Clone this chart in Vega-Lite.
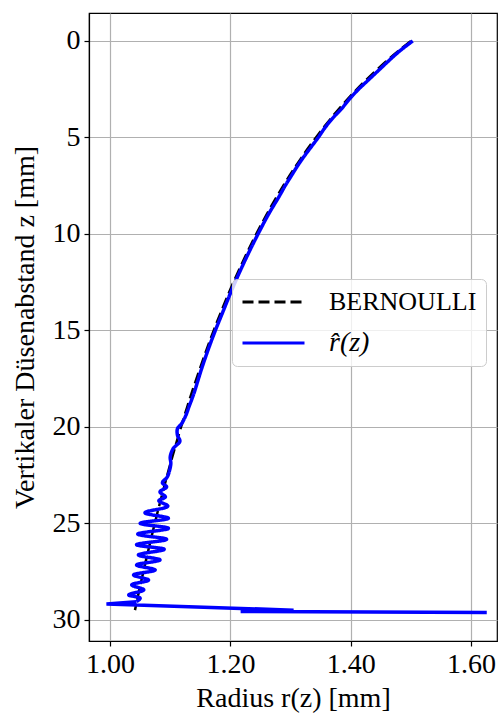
{
  "$schema": "https://vega.github.io/schema/vega-lite/v6.json",
  "width": 408,
  "height": 628,
  "autosize": "none",
  "padding": {"left": 89, "top": 13, "right": 5, "bottom": 77},
  "background": "white",
  "config": {
    "font": "Liberation Serif",
    "view": {"stroke": "black", "strokeWidth": 1.2},
    "axis": {
      "labelFont": "Liberation Serif",
      "labelFontSize": 28,
      "labelColor": "black",
      "titleFont": "Liberation Serif",
      "titleFontSize": 28,
      "titleFontWeight": "normal",
      "titleColor": "black",
      "domainColor": "black",
      "domainWidth": 1.2,
      "tickColor": "black",
      "tickWidth": 1.2,
      "tickSize": 5,
      "gridColor": "#b0b0b0",
      "gridWidth": 1.2,
      "labelPadding": 4
    }
  },
  "datasets": {
    "bernoulli": [
      {"z": 0, "r": 1.5, "s": "BERNOULLI"},
      {"z": 0.5, "r": 1.4797, "s": "BERNOULLI"},
      {"z": 1, "r": 1.4607, "s": "BERNOULLI"},
      {"z": 2, "r": 1.4261, "s": "BERNOULLI"},
      {"z": 3, "r": 1.3952, "s": "BERNOULLI"},
      {"z": 4, "r": 1.3674, "s": "BERNOULLI"},
      {"z": 5, "r": 1.3422, "s": "BERNOULLI"},
      {"z": 6, "r": 1.3191, "s": "BERNOULLI"},
      {"z": 7, "r": 1.2979, "s": "BERNOULLI"},
      {"z": 8, "r": 1.2783, "s": "BERNOULLI"},
      {"z": 9, "r": 1.2601, "s": "BERNOULLI"},
      {"z": 10, "r": 1.2431, "s": "BERNOULLI"},
      {"z": 11, "r": 1.2272, "s": "BERNOULLI"},
      {"z": 12, "r": 1.2123, "s": "BERNOULLI"},
      {"z": 13, "r": 1.1982, "s": "BERNOULLI"},
      {"z": 14, "r": 1.1849, "s": "BERNOULLI"},
      {"z": 15, "r": 1.1723, "s": "BERNOULLI"},
      {"z": 16, "r": 1.1604, "s": "BERNOULLI"},
      {"z": 17, "r": 1.1491, "s": "BERNOULLI"},
      {"z": 18, "r": 1.1382, "s": "BERNOULLI"},
      {"z": 19, "r": 1.1279, "s": "BERNOULLI"},
      {"z": 20, "r": 1.118, "s": "BERNOULLI"},
      {"z": 21, "r": 1.1086, "s": "BERNOULLI"},
      {"z": 22, "r": 1.0995, "s": "BERNOULLI"},
      {"z": 23, "r": 1.0908, "s": "BERNOULLI"},
      {"z": 24, "r": 1.0824, "s": "BERNOULLI"},
      {"z": 25, "r": 1.0743, "s": "BERNOULLI"},
      {"z": 26, "r": 1.0666, "s": "BERNOULLI"},
      {"z": 27, "r": 1.0591, "s": "BERNOULLI"},
      {"z": 28, "r": 1.0518, "s": "BERNOULLI"},
      {"z": 29, "r": 1.0448, "s": "BERNOULLI"},
      {"z": 29.5, "r": 1.0414, "s": "BERNOULLI"}
    ],
    "rhat": [
      {"i": 0, "z": 0, "r": 1.503, "s": "r̂(z)"},
      {"i": 1, "z": 0.5, "r": 1.482, "s": "r̂(z)"},
      {"i": 2, "z": 1, "r": 1.464, "s": "r̂(z)"},
      {"i": 3, "z": 1.5, "r": 1.447, "s": "r̂(z)"},
      {"i": 4, "z": 2, "r": 1.43, "s": "r̂(z)"},
      {"i": 5, "z": 2.5, "r": 1.413, "s": "r̂(z)"},
      {"i": 6, "z": 3, "r": 1.398, "s": "r̂(z)"},
      {"i": 7, "z": 3.5, "r": 1.385, "s": "r̂(z)"},
      {"i": 8, "z": 4, "r": 1.37, "s": "r̂(z)"},
      {"i": 9, "z": 4.5, "r": 1.357, "s": "r̂(z)"},
      {"i": 10, "z": 5, "r": 1.346, "s": "r̂(z)"},
      {"i": 11, "z": 5.5, "r": 1.334, "s": "r̂(z)"},
      {"i": 12, "z": 6, "r": 1.322, "s": "r̂(z)"},
      {"i": 13, "z": 6.5, "r": 1.311, "s": "r̂(z)"},
      {"i": 14, "z": 7, "r": 1.301, "s": "r̂(z)"},
      {"i": 15, "z": 7.5, "r": 1.291, "s": "r̂(z)"},
      {"i": 16, "z": 8, "r": 1.282, "s": "r̂(z)"},
      {"i": 17, "z": 9, "r": 1.263, "s": "r̂(z)"},
      {"i": 18, "z": 10, "r": 1.246, "s": "r̂(z)"},
      {"i": 19, "z": 11, "r": 1.23, "s": "r̂(z)"},
      {"i": 20, "z": 12, "r": 1.215, "s": "r̂(z)"},
      {"i": 21, "z": 13, "r": 1.201, "s": "r̂(z)"},
      {"i": 22, "z": 14, "r": 1.188, "s": "r̂(z)"},
      {"i": 23, "z": 15, "r": 1.175, "s": "r̂(z)"},
      {"i": 24, "z": 16, "r": 1.163, "s": "r̂(z)"},
      {"i": 25, "z": 17, "r": 1.152, "s": "r̂(z)"},
      {"i": 26, "z": 17.6, "r": 1.146, "s": "r̂(z)"},
      {"i": 27, "z": 18.3, "r": 1.139, "s": "r̂(z)"},
      {"i": 28, "z": 18.97, "r": 1.131, "s": "r̂(z)"},
      {"i": 29, "z": 19.4, "r": 1.126, "s": "r̂(z)"},
      {"i": 30, "z": 19.83, "r": 1.119, "s": "r̂(z)"},
      {"i": 31, "z": 20.1, "r": 1.112, "s": "r̂(z)"},
      {"i": 32, "z": 20.43, "r": 1.112, "s": "r̂(z)"},
      {"i": 33, "z": 20.75, "r": 1.116, "s": "r̂(z)"},
      {"i": 34, "z": 21.12, "r": 1.105, "s": "r̂(z)"},
      {"i": 35, "z": 21.55, "r": 1.1, "s": "r̂(z)"},
      {"i": 36, "z": 21.9, "r": 1.101, "s": "r̂(z)"},
      {"i": 37, "z": 22.24, "r": 1.099, "s": "r̂(z)"},
      {"i": 38, "z": 22.6, "r": 1.095, "s": "r̂(z)"},
      {"i": 39, "z": 22.9, "r": 1.087, "s": "r̂(z)"},
      {"i": 40, "z": 23.11, "r": 1.094, "s": "r̂(z)"},
      {"i": 41, "z": 23.37, "r": 1.083, "s": "r̂(z)"},
      {"i": 42, "z": 23.63, "r": 1.092, "s": "r̂(z)"},
      {"i": 43, "z": 23.83, "r": 1.081, "s": "r̂(z)"},
      {"i": 44, "z": 24.11, "r": 1.096, "s": "r̂(z)"},
      {"i": 45, "z": 24.45, "r": 1.058, "s": "r̂(z)"},
      {"i": 46, "z": 24.74, "r": 1.097, "s": "r̂(z)"},
      {"i": 47, "z": 25.0, "r": 1.05, "s": "r̂(z)"},
      {"i": 48, "z": 25.26, "r": 1.097, "s": "r̂(z)"},
      {"i": 49, "z": 25.56, "r": 1.046, "s": "r̂(z)"},
      {"i": 50, "z": 25.83, "r": 1.094, "s": "r̂(z)"},
      {"i": 51, "z": 26.11, "r": 1.044, "s": "r̂(z)"},
      {"i": 52, "z": 26.35, "r": 1.09, "s": "r̂(z)"},
      {"i": 53, "z": 26.64, "r": 1.047, "s": "r̂(z)"},
      {"i": 54, "z": 26.9, "r": 1.083, "s": "r̂(z)"},
      {"i": 55, "z": 27.16, "r": 1.044, "s": "r̂(z)"},
      {"i": 56, "z": 27.42, "r": 1.075, "s": "r̂(z)"},
      {"i": 57, "z": 27.68, "r": 1.039, "s": "r̂(z)"},
      {"i": 58, "z": 27.94, "r": 1.064, "s": "r̂(z)"},
      {"i": 59, "z": 28.19, "r": 1.036, "s": "r̂(z)"},
      {"i": 60, "z": 28.45, "r": 1.056, "s": "r̂(z)"},
      {"i": 61, "z": 28.71, "r": 1.031, "s": "r̂(z)"},
      {"i": 62, "z": 28.88, "r": 1.05, "s": "r̂(z)"},
      {"i": 63, "z": 29.06, "r": 1.044, "s": "r̂(z)"}
    ],
    "tail": [
      {"i": 0, "z": 29.06, "r": 1.044},
      {"i": 1, "z": 29.18, "r": 0.994},
      {"i": 2, "z": 29.5, "r": 1.305},
      {"i": 3, "z": 29.57, "r": 1.217},
      {"i": 4, "z": 29.62, "r": 1.626}
    ]
  },
  "encoding": {
    "x": {
      "field": "r",
      "type": "quantitative",
      "scale": {"domain": [0.965, 1.643], "nice": false, "zero": false},
      "axis": {"values": [1.0, 1.2, 1.4, 1.6], "format": ".2f", "title": "Radius r(z) [mm]", "titlePadding": 6}
    },
    "y": {
      "field": "z",
      "type": "quantitative",
      "scale": {"domain": [-1.45, 31.1], "nice": false, "zero": false, "reverse": true},
      "axis": {"values": [0, 5, 10, 15, 20, 25, 30], "title": "Vertikaler Düsenabstand z [mm]", "titlePadding": 13}
    }
  },
  "layer": [
    {
      "data": {"name": "bernoulli"},
      "mark": {"type": "line", "strokeWidth": 2.5, "interpolate": "catmull-rom"},
      "encoding": {
        "order": {"field": "z", "type": "quantitative"},
        "color": {
          "field": "s",
          "type": "nominal",
          "scale": {"domain": ["BERNOULLI", "r̂(z)"], "range": ["black", "#0000ff"]},
          "legend": {
            "title": null,
            "orient": "none",
            "legendX": 143,
            "legendY": 266,
            "symbolType": "M-1,0H3.96",
            "symbolSize": 625,
            "symbolStrokeWidth": 3,
            "labelFont": "Liberation Serif",
            "labelFontSize": 28,
            "labelColor": "black",
            "labelOffset": 60,
            "padding": 9,
            "rowPadding": 14,
            "fillColor": "rgba(255,255,255,0.8)",
            "strokeColor": "#cccccc",
            "cornerRadius": 5,
            "labelLimit": 300,
            "encode": {
              "labels": {
                "update": {
                  "fontStyle": {"signal": "datum.label == 'BERNOULLI' ? 'normal' : 'italic'"},
                  "fontSize": {"signal": "datum.label == 'BERNOULLI' ? 26 : 28"}
                }
              }
            }
          }
        },
        "strokeDash": {
          "field": "s",
          "type": "nominal",
          "scale": {"domain": ["BERNOULLI", "r̂(z)"], "range": [[11, 5], [1, 0]]}
        }
      }
    },
    {
      "data": {"name": "rhat"},
      "mark": {"type": "line", "strokeWidth": 3.5, "interpolate": "catmull-rom"},
      "encoding": {
        "order": {"field": "i", "type": "quantitative"},
        "color": {"field": "s", "type": "nominal"},
        "strokeDash": {"field": "s", "type": "nominal"}
      }
    },
    {
      "data": {"name": "tail"},
      "mark": {"type": "line", "strokeWidth": 3.5, "color": "#0000ff"},
      "encoding": {
        "order": {"field": "i", "type": "quantitative"}
      }
    }
  ]
}
